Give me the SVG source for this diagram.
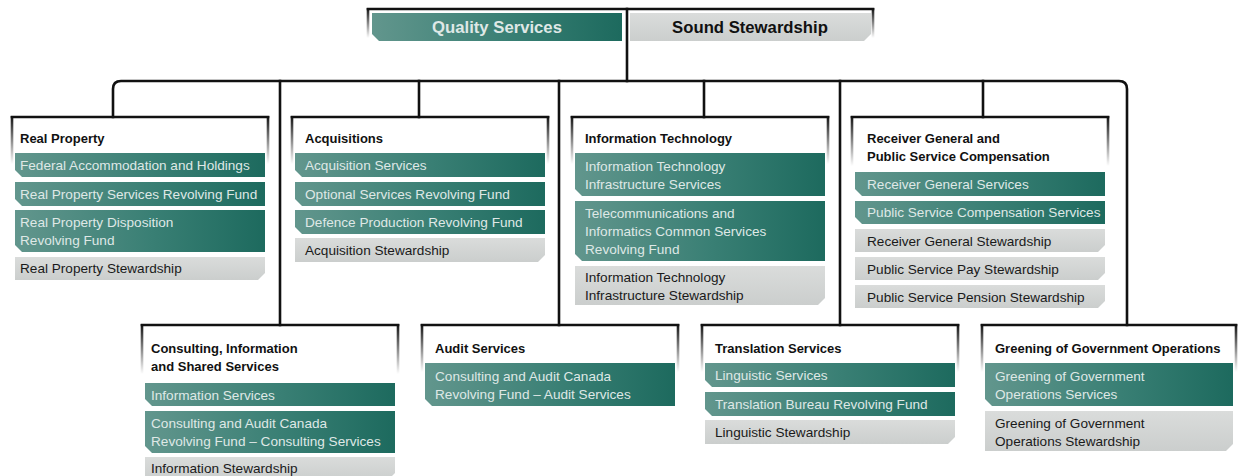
<svg xmlns="http://www.w3.org/2000/svg" width="1238" height="476" viewBox="0 0 1238 476">
  <defs>
    <linearGradient id="teal" x1="0" y1="0" x2="1" y2="0">
      <stop offset="0" stop-color="#62968d"/>
      <stop offset="0.55" stop-color="#397f74"/>
      <stop offset="1" stop-color="#1d6a5e"/>
    </linearGradient>
    <linearGradient id="grey" x1="0" y1="0" x2="0" y2="1">
      <stop offset="0" stop-color="#dadcdb"/>
      <stop offset="1" stop-color="#cbcecd"/>
    </linearGradient>
    <linearGradient id="fadeDown" x1="0" y1="0" x2="0" y2="1">
      <stop offset="0" stop-color="#111" stop-opacity="1"/>
      <stop offset="1" stop-color="#111" stop-opacity="0"/>
    </linearGradient>
    <style>
      .line { fill: none; stroke: #111; stroke-width: 2.6; stroke-linecap: square; }
      .edge { fill: url(#fadeDown); }
      .svc { fill: url(#teal); }
      .stw { fill: url(#grey); }
      .title { font-family: "Liberation Sans", Arial, sans-serif; font-weight: bold; font-size: 13px; fill: #111; }
      .tsvc { font-family: "Liberation Sans", Arial, sans-serif; font-size: 13.6px; fill: #dfe8e6; }
      .tstw { font-family: "Liberation Sans", Arial, sans-serif; font-size: 13.6px; fill: #1a1a1a; }
      .head { font-family: "Liberation Sans", Arial, sans-serif; font-weight: bold; font-size: 16.7px; text-anchor: middle; }
    </style>
  </defs>
  <rect width="1238" height="476" fill="#ffffff"/>

  <!-- Heading: two pillars -->
  <g id="pillars">
    <line class="line" x1="368" y1="9" x2="873" y2="9"/>
    <rect class="edge" x="366.7" y="8" width="2.6" height="30"/>
    <rect class="edge" x="871.7" y="8" width="2.6" height="30"/>
    <path class="svc" d="M372 13 H622 V41 H379 L372 34 Z"/>
    <text class="head" x="497" y="33" fill="#dfe8e6">Quality Services</text>
    <path class="stw" d="M630 13 H871 V34 L864 41 H630 Z"/>
    <text class="head" x="750" y="33" fill="#111">Sound Stewardship</text>
  </g>

  <!-- Connectors -->
  <g id="connectors">
    <line class="line" x1="627" y1="9" x2="627" y2="81"/>
    <path class="line" d="M113 117 V89 Q113 81 121 81 H1119 Q1127 81 1127 89 V325"/>
    <line class="line" x1="419" y1="81" x2="419" y2="117"/>
    <line class="line" x1="704" y1="81" x2="704" y2="117"/>
    <line class="line" x1="983" y1="81" x2="983" y2="117"/>
    <line class="line" x1="280" y1="81" x2="280" y2="325"/>
    <line class="line" x1="559" y1="81" x2="559" y2="325"/>
    <line class="line" x1="840" y1="81" x2="840" y2="325"/>
  </g>

  <!-- Real Property -->
  <g id="real-property">
    <line class="line" x1="12" y1="117" x2="268" y2="117"/>
    <rect class="edge" x="10.7" y="116" width="2.6" height="48"/>
    <rect class="edge" x="266.7" y="116" width="2.6" height="48"/>
    <text class="title" x="20" y="143">Real Property</text>
    <path class="svc" d="M15 153 H265 V177 H22 L15 170 Z"/>
    <text class="tsvc" x="20" y="170">Federal Accommodation and Holdings</text>
    <path class="svc" d="M15 182 H265 V206 H22 L15 199 Z"/>
    <text class="tsvc" x="20" y="199">Real Property Services Revolving Fund</text>
    <path class="svc" d="M15 210 H265 V252 H22 L15 245 Z"/>
    <text class="tsvc" x="20" y="227">Real Property Disposition</text>
    <text class="tsvc" x="20" y="245">Revolving Fund</text>
    <path class="stw" d="M15 257 H265 V273 L258 280 H15 Z"/>
    <text class="tstw" x="20" y="273">Real Property Stewardship</text>
  </g>

  <!-- Acquisitions -->
  <g id="acquisitions">
    <line class="line" x1="292" y1="117" x2="548" y2="117"/>
    <rect class="edge" x="290.7" y="116" width="2.6" height="48"/>
    <rect class="edge" x="546.7" y="116" width="2.6" height="48"/>
    <text class="title" x="305" y="143">Acquisitions</text>
    <path class="svc" d="M295 153 H545 V177 H302 L295 170 Z"/>
    <text class="tsvc" x="305" y="170">Acquisition Services</text>
    <path class="svc" d="M295 182 H545 V206 H302 L295 199 Z"/>
    <text class="tsvc" x="305" y="199">Optional Services Revolving Fund</text>
    <path class="svc" d="M295 210 H545 V234 H302 L295 227 Z"/>
    <text class="tsvc" x="305" y="227">Defence Production Revolving Fund</text>
    <path class="stw" d="M295 238 H545 V255 L538 262 H295 Z"/>
    <text class="tstw" x="305" y="255">Acquisition Stewardship</text>
  </g>

  <!-- Information Technology -->
  <g id="information-technology">
    <line class="line" x1="572" y1="117" x2="828" y2="117"/>
    <rect class="edge" x="570.7" y="116" width="2.6" height="48"/>
    <rect class="edge" x="826.7" y="116" width="2.6" height="48"/>
    <text class="title" x="585" y="143">Information Technology</text>
    <path class="svc" d="M575 153 H825 V196 H582 L575 189 Z"/>
    <text class="tsvc" x="585" y="171">Information Technology</text>
    <text class="tsvc" x="585" y="189">Infrastructure  Services</text>
    <path class="svc" d="M575 201 H825 V261 H582 L575 254 Z"/>
    <text class="tsvc" x="585" y="218">Telecommunications and</text>
    <text class="tsvc" x="585" y="236">Informatics Common Services</text>
    <text class="tsvc" x="585" y="254">Revolving Fund</text>
    <path class="stw" d="M575 266 H825 V298 L818 305 H575 Z"/>
    <text class="tstw" x="585" y="282">Information Technology</text>
    <text class="tstw" x="585" y="300">Infrastructure Stewardship</text>
  </g>

  <!-- Receiver General and Public Service Compensation -->
  <g id="receiver-general">
    <line class="line" x1="852" y1="117" x2="1108" y2="117"/>
    <rect class="edge" x="850.7" y="116" width="2.6" height="50"/>
    <rect class="edge" x="1106.7" y="116" width="2.6" height="50"/>
    <text class="title" x="867" y="143">Receiver General and</text>
    <text class="title" x="867" y="161">Public Service Compensation</text>
    <path class="svc" d="M855 172 H1105 V196 H862 L855 189 Z"/>
    <text class="tsvc" x="867" y="189">Receiver General Services</text>
    <path class="svc" d="M855 201 H1105 V224 H862 L855 217 Z"/>
    <text class="tsvc" x="867" y="217">Public Service Compensation Services</text>
    <path class="stw" d="M855 229 H1105 V245 L1098 252 H855 Z"/>
    <text class="tstw" x="867" y="246">Receiver General Stewardship</text>
    <path class="stw" d="M855 257 H1105 V273 L1098 280 H855 Z"/>
    <text class="tstw" x="867" y="274">Public Service Pay Stewardship</text>
    <path class="stw" d="M855 285 H1105 V301 L1098 308 H855 Z"/>
    <text class="tstw" x="867" y="302">Public Service Pension Stewardship</text>
  </g>

  <!-- Consulting, Information and Shared Services -->
  <g id="consulting">
    <line class="line" x1="142" y1="325" x2="398" y2="325"/>
    <rect class="edge" x="140.7" y="324" width="2.6" height="50"/>
    <rect class="edge" x="396.7" y="324" width="2.6" height="50"/>
    <text class="title" x="151" y="353">Consulting, Information</text>
    <text class="title" x="151" y="371">and Shared Services</text>
    <path class="svc" d="M145 383 H395 V406 H152 L145 399 Z"/>
    <text class="tsvc" x="151" y="400">Information Services</text>
    <path class="svc" d="M145 411 H395 V453 H152 L145 446 Z"/>
    <text class="tsvc" x="151" y="428">Consulting and Audit Canada</text>
    <text class="tsvc" x="151" y="446">Revolving Fund – Consulting Services</text>
    <path class="stw" d="M145 457 H395 V473 L388 480 H145 Z"/>
    <text class="tstw" x="151" y="473">Information Stewardship</text>
  </g>

  <!-- Audit Services -->
  <g id="audit">
    <line class="line" x1="422" y1="325" x2="678" y2="325"/>
    <rect class="edge" x="420.7" y="324" width="2.6" height="48"/>
    <rect class="edge" x="676.7" y="324" width="2.6" height="48"/>
    <text class="title" x="435" y="353">Audit Services</text>
    <path class="svc" d="M425 363 H675 V406 H432 L425 399 Z"/>
    <text class="tsvc" x="435" y="381">Consulting and Audit Canada</text>
    <text class="tsvc" x="435" y="399">Revolving Fund – Audit Services</text>
  </g>

  <!-- Translation Services -->
  <g id="translation">
    <line class="line" x1="702" y1="325" x2="958" y2="325"/>
    <rect class="edge" x="700.7" y="324" width="2.6" height="48"/>
    <rect class="edge" x="956.7" y="324" width="2.6" height="48"/>
    <text class="title" x="715" y="353">Translation Services</text>
    <path class="svc" d="M705 363 H955 V387 H712 L705 380 Z"/>
    <text class="tsvc" x="715" y="380">Linguistic Services</text>
    <path class="svc" d="M705 392 H955 V416 H712 L705 409 Z"/>
    <text class="tsvc" x="715" y="409">Translation Bureau Revolving Fund</text>
    <path class="stw" d="M705 420 H955 V437 L948 444 H705 Z"/>
    <text class="tstw" x="715" y="437">Linguistic Stewardship</text>
  </g>

  <!-- Greening of Government Operations -->
  <g id="greening">
    <line class="line" x1="982" y1="325" x2="1236" y2="325"/>
    <rect class="edge" x="980.7" y="324" width="2.6" height="48"/>
    <rect class="edge" x="1234.7" y="324" width="2.6" height="48"/>
    <text class="title" x="995" y="353">Greening of Government Operations</text>
    <path class="svc" d="M985 363 H1233 V406 H992 L985 399 Z"/>
    <text class="tsvc" x="995" y="381">Greening of Government</text>
    <text class="tsvc" x="995" y="399">Operations Services</text>
    <path class="stw" d="M985 411 H1233 V444 L1226 451 H985 Z"/>
    <text class="tstw" x="995" y="428">Greening of Government</text>
    <text class="tstw" x="995" y="446">Operations Stewardship</text>
  </g>
</svg>
